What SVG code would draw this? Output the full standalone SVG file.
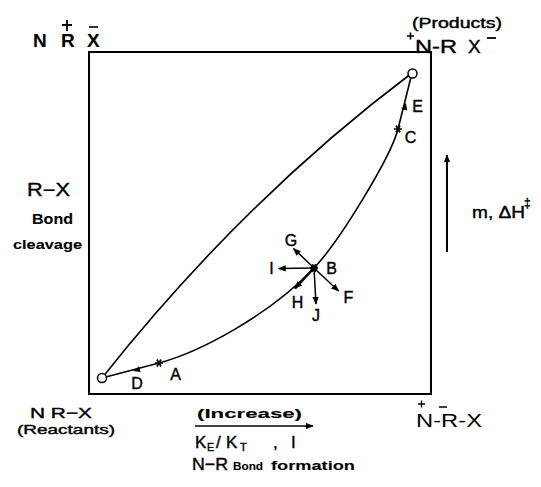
<svg xmlns="http://www.w3.org/2000/svg" width="541" height="487" viewBox="0 0 541 487">
<style>
.t{font-family:"Liberation Sans","DejaVu Sans",Arial,sans-serif;fill:#000;stroke:#000;stroke-width:0.4}
.b{font-weight:bold;stroke-width:0.1}
.lbl{font-size:16px;text-anchor:middle}
.ln{fill:none;stroke:#000;stroke-width:1.6;stroke-linecap:round}
.ar{fill:none;stroke:#000;stroke-width:1.5;marker-end:url(#ah)}
</style>
<defs>
<marker id="ah" viewBox="0 0 10 8" refX="9" refY="4" markerWidth="8" markerHeight="6.4" markerUnits="userSpaceOnUse" orient="auto">
<path d="M0,0 L10,4 L0,8 z" fill="#000"/>
</marker>
<g id="star">
<path d="M-4,0 L4,0 M-2,-3.5 L2,3.5 M-2,3.5 L2,-3.5" stroke="#000" stroke-width="1.6" fill="none"/>
</g>
</defs>

<g id="frame">
<rect x="89" y="52" width="342" height="342" fill="none" stroke="#000" stroke-width="2"/>
</g>

<g id="connectors">
<path class="ln" d="M102,378 Q243,200 412,73"/>
<path class="ln" d="M102,378 L159,363 C200,352 270,315 315,267 C340,240 391,157 398,129 L412,73"/>
<polygon points="133,371 140.6,372.1 139,366.3" fill="#000"/>
<polygon points="406,103 407.2,110.5 401.4,109.1" fill="#000"/>
<line class="ar" x1="314" y1="268" x2="293.5" y2="248.5"/>
<line class="ar" x1="314" y1="268" x2="278.5" y2="268.5"/>
<line class="ar" x1="314" y1="268" x2="295" y2="288.5" style="stroke-width:2.4"/>
<line class="ar" x1="314" y1="268" x2="316" y2="304"/>
<line class="ar" x1="314" y1="268" x2="338.5" y2="291"/>
<line class="ar" x1="447" y1="252" x2="447" y2="155" style="stroke-width:2"/>
<line class="ar" x1="195" y1="426" x2="313" y2="426"/>
</g>

<g id="points">
<use href="#star" x="159" y="363"/>
<use href="#star" x="398" y="129"/>
<circle cx="314" cy="268" r="3.5" fill="#000"/>
<use href="#star" x="314" y="268"/>
</g>

<g id="reactants-node">
<circle cx="102" cy="378" r="4.5" fill="#fff" stroke="#000" stroke-width="1.5"/>
</g>
<g id="products-node">
<circle cx="412.5" cy="73.5" r="4.5" fill="#fff" stroke="#000" stroke-width="1.5"/>
</g>

<g id="point-labels" class="t">
<text class="lbl" x="291" y="245.5">G</text>
<text class="lbl" x="271.5" y="274">I</text>
<text class="lbl" x="331.5" y="273.5">B</text>
<text class="lbl" x="297.5" y="307.5">H</text>
<text class="lbl" x="316" y="321">J</text>
<text class="lbl" x="348.5" y="302.5">F</text>
<text class="lbl" x="417.5" y="112">E</text>
<text class="lbl" x="410.5" y="143">C</text>
<text class="lbl" x="175.5" y="380">A</text>
<text class="lbl" x="137" y="389">D</text>
</g>

<g id="corner-top-left" class="t b" style="font-size:19px">
<text x="33" y="47">N</text>
<text x="61" y="47">R</text>
<text x="87" y="47">X</text>
<path d="M67,20 L67,31 M62,25 L72,25" stroke="#000" stroke-width="1.8"/>
<path d="M89,27 L98,27" stroke="#000" stroke-width="1.6"/>
</g>

<g id="corner-top-right" class="t">
<text x="412" y="28" style="font-size:14px" textLength="90" lengthAdjust="spacingAndGlyphs">(Products)</text>
<text x="415" y="53" style="font-size:19px" textLength="42" lengthAdjust="spacingAndGlyphs">N-R</text>
<text x="468" y="53" style="font-size:19px">X</text>
<path d="M407,36 L414,36 M410.5,32.5 L410.5,39.5" stroke="#000" stroke-width="1.6"/>
<path d="M487,38 L496,38" stroke="#000" stroke-width="1.8"/>
</g>

<g id="left-axis-label" class="t">
<text x="27" y="196" style="font-size:18px" textLength="43" lengthAdjust="spacingAndGlyphs">R−X</text>
<text class="b" x="32" y="223.5" style="font-size:14px" textLength="41" lengthAdjust="spacingAndGlyphs">Bond</text>
<text class="b" x="13" y="249" style="font-size:13px" textLength="69" lengthAdjust="spacingAndGlyphs">cleavage</text>
</g>

<g id="right-axis-label" class="t" style="font-size:17px">
<text x="472" y="218" textLength="53" lengthAdjust="spacingAndGlyphs">m, ΔH</text>
<text x="524" y="207" style="font-size:12px">‡</text>
</g>

<g id="corner-bottom-left" class="t">
<text x="30" y="418" style="font-size:15px" textLength="62" lengthAdjust="spacingAndGlyphs">N R−X</text>
<text x="17" y="434" style="font-size:13px" textLength="98" lengthAdjust="spacingAndGlyphs">(Reactants)</text>
</g>

<g id="corner-bottom-right" class="t" style="stroke-width:0">
<text x="416" y="427" style="font-size:18px" textLength="66" lengthAdjust="spacingAndGlyphs">N-R-X</text>
<path d="M418,404 L425,404 M421.5,400.5 L421.5,407.5" stroke="#000" stroke-width="1.3"/>
<path d="M439,407 L447,407" stroke="#000" stroke-width="1.5"/>
</g>

<g id="bottom-axis-label" class="t">
<text class="b" x="197" y="418" style="font-size:13px" textLength="105" lengthAdjust="spacingAndGlyphs">(Increase)</text>
<text x="195" y="448" style="font-size:17px">K</text>
<text x="207" y="451" style="font-size:11px">E</text>
<text x="216" y="448" style="font-size:17px">/</text>
<text x="226" y="448" style="font-size:17px">K</text>
<text x="240" y="451" style="font-size:11px">T</text>
<text x="273" y="448" style="font-size:17px">,</text>
<text x="291" y="448" style="font-size:17px">I</text>
<text x="192" y="470" style="font-size:17px" textLength="36" lengthAdjust="spacingAndGlyphs">N−R</text>
<text class="b" x="233" y="470" style="font-size:11px" textLength="30" lengthAdjust="spacingAndGlyphs">Bond</text>
<text class="b" x="271" y="470" style="font-size:12px" textLength="84" lengthAdjust="spacingAndGlyphs">formation</text>
</g>
</svg>
